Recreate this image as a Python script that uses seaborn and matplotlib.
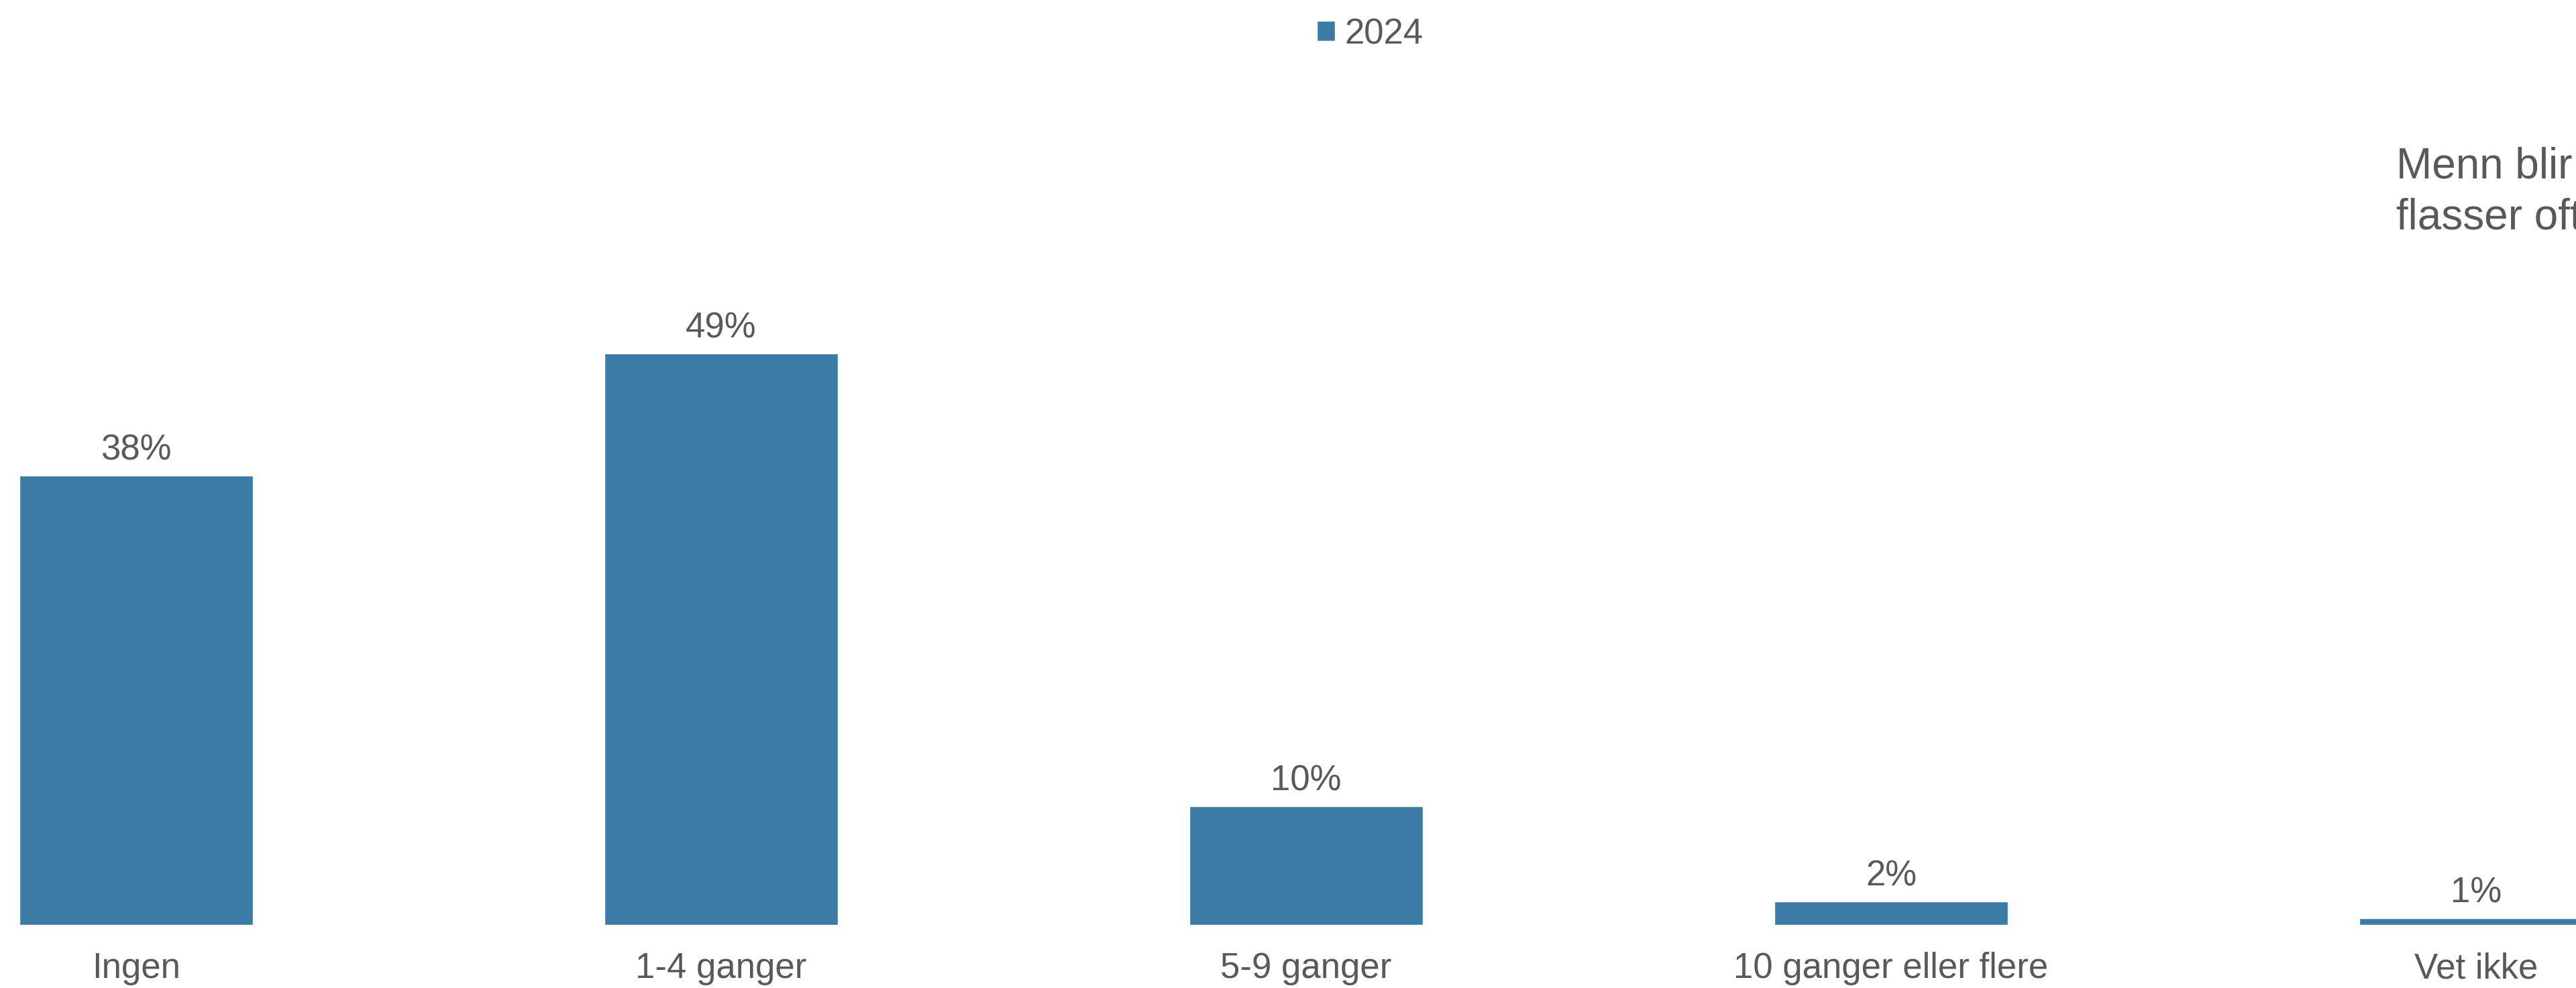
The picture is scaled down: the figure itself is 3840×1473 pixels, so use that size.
import numpy as np
import pandas as pd
import matplotlib
matplotlib.use("Agg")
import matplotlib.pyplot as plt
import seaborn as sns

# data
categories = ["Ingen", "1-4 ganger", "5-9 ganger", "10 ganger eller flere", "Vet ikke"]
values = [38.3, 48.7, 10.1, 2.0, 0.6]
series_name = "2024"
note_text = "Menn blir flasset\nflasser oftere"

bar_color = "#3B7BA5"
text_color = "#595959"

sns.set_style("white")
plt.rcParams["font.family"] = ["Liberation Sans", "DejaVu Sans"]

df = pd.DataFrame({"kategori": categories, "andel": values, "aar": series_name})

W, H = 3841, 1473
fig = plt.figure(figsize=(W / 100, H / 100), dpi=100)
base_px = 1379
top_px = 154
ax = fig.add_axes([0, (H - base_px) / H, 1, (base_px - top_px) / H])

sns.barplot(data=df, x="kategori", y="andel", hue="aar", palette=[bar_color],
            width=0.4, dodge=False, saturation=1, ax=ax)

ax.set_xlim(-203 / 872, (W - 203) / 872)
ax.set_ylim(0, 70)

labels = [f"{round(v)}%" for v in values]
ax.bar_label(ax.containers[0], labels=labels, padding=9, fontsize=38, color=text_color)

ax.set_xlabel("")
ax.set_ylabel("")
ax.set_yticks([])
ax.tick_params(axis="x", length=0, pad=29, labelsize=38, labelcolor=text_color)
sns.despine(ax=ax, left=True, bottom=True)

ax.legend_.remove()
handles, lbls = ax.get_legend_handles_labels()
fig.legend(handles, lbls, loc="center", bbox_to_anchor=(2042 / W, 1 - 51 / H),
           frameon=False, fontsize=38, handlelength=0.51, handleheight=0.51,
           handletextpad=0.28, borderpad=0, labelcolor=text_color)

fig.text(3572 / W, 1 - 218 / H, note_text, fontsize=46, color=text_color,
         va="top", ha="left", linespacing=1.36)

fig.savefig("out.png", dpi=100)
